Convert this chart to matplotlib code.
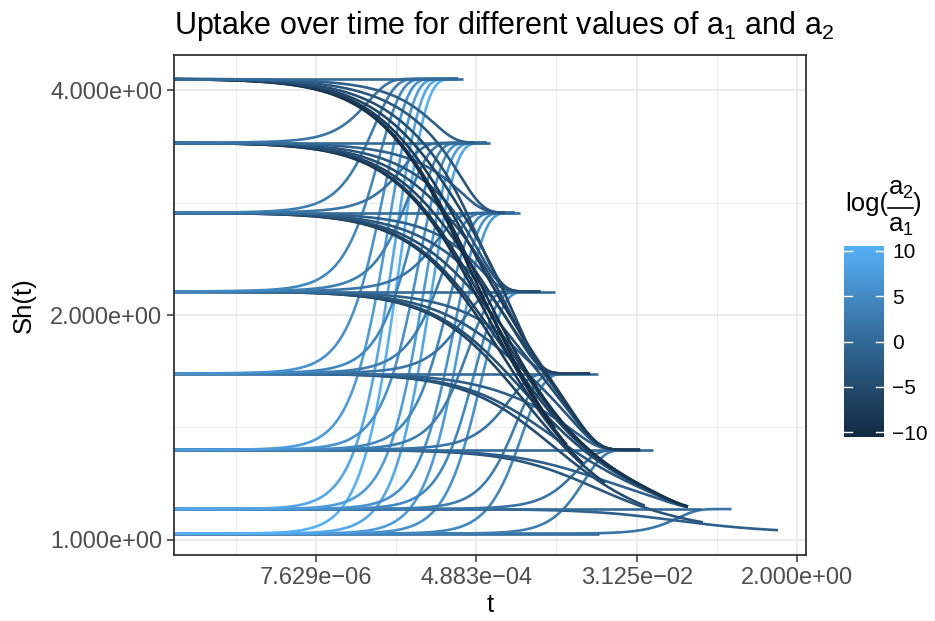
import numpy as np
import matplotlib
matplotlib.use("Agg")
import matplotlib.pyplot as plt
from matplotlib.colors import ListedColormap, Normalize
from matplotlib.ticker import NullFormatter

# ---------------- data ----------------
# steady-state Sh level for each of the 8 values of a (low -> high)
sh_levels = [1.02, 1.10, 1.32, 1.67, 2.15, 2.74, 3.40, 4.14]
# ln(a) of the 8 values (relative); colour = ln(a2/a1)
ln_a = [0.0, 1.5, 3.0, 4.5, 6.0, 7.5, 9.0, 10.5]
settle_log2 = [np.nan, -3.45, -6.90, -9.14, -10.64, -11.31, -12.36, -13.44]
# earlier settling (log2 t) per step of the starting level, for rising curves
rise_shift_log2 = 0.25
# log2 t where the flat (a1 = a2) lines end
flat_end_log2 = [-6.40, -2.60, -4.39, -6.45, -8.06, -9.37, -10.49, -11.50]
# log2 t where rising curves into level j end
rise_end_log2 = [np.nan, -1.45, -5.15, -7.39, -8.89, -9.56, -10.61, -11.69]
# log2 t where curves falling into level j end (level 0: by start level)
fall_end_log2 = [np.nan, -3.08, -4.87, -6.75, -8.60, -9.93, -11.05, np.nan]
fall_base_end_log2 = [np.nan, 0.29, -2.52, -4.69, -6.18, -7.01, -7.61, -8.06]
# common decay of the starting plateau: excess ~ 2^decay_log2c * t^-decay_p
decay_log2c = -6.31
decay_p = 0.62
t_start_log2 = -22.4

x_tick_pow = [-17, -11, -5, 1]
x_tick_labels = ["7.629e\u221206", "4.883e\u221204", "3.125e\u221202", "2.000e+00"]
y_tick_pow = [0, 1, 2]
y_tick_labels = ["1.000e+00", "2.000e+00", "4.000e+00"]
cbar_ticks = [-10, -5, 0, 5, 10]
cbar_labels = ["\u221210", "\u22125", "0", "5", "10"]
cbar_range = (-10.5, 10.5)

# ---------------- colour scale (ggplot default, Lab interpolation) ----------------
def _srgb_to_lin(c):
    c = np.asarray(c, float)
    return np.where(c <= 0.04045, c / 12.92, ((c + 0.055) / 1.055) ** 2.4)

def _lin_to_srgb(c):
    c = np.clip(c, 0, 1)
    return np.where(c <= 0.0031308, 12.92 * c, 1.055 * c ** (1 / 2.4) - 0.055)

M = np.array([[0.4124, 0.3576, 0.1805], [0.2126, 0.7152, 0.0722], [0.0193, 0.1192, 0.9505]])
WP = np.array([0.95047, 1.0, 1.08883])

def _f(t):
    d = 6 / 29
    return np.where(t > d ** 3, np.cbrt(t), t / (3 * d * d) + 4 / 29)

def _finv(t):
    d = 6 / 29
    return np.where(t > d, t ** 3, 3 * d * d * (t - 4 / 29))

def hex2lab(h):
    rgb = np.array([int(h[k:k + 2], 16) / 255 for k in (1, 3, 5)])
    xyz = M @ _srgb_to_lin(rgb) / WP
    fx, fy, fz = _f(xyz)
    return np.array([116 * fy - 16, 500 * (fx - fy), 200 * (fy - fz)])

def lab2rgb(lab):
    L, a, b = lab
    fy = (L + 16) / 116
    xyz = np.array([_finv(fy + a / 500), _finv(fy), _finv(fy - b / 200)]) * WP
    return _lin_to_srgb(np.linalg.inv(M) @ xyz)

lo, hi = hex2lab("#132B43"), hex2lab("#56B1F7")
cmap = ListedColormap([lab2rgb(lo + (hi - lo) * s) for s in np.linspace(0, 1, 256)])
norm = Normalize(*cbar_range)

# ---------------- figure ----------------
plt.rcParams["font.family"] = ["Liberation Sans", "DejaVu Sans"]
plt.rcParams["mathtext.fontset"] = "custom"
plt.rcParams["mathtext.rm"] = "Liberation Sans"
plt.rcParams["mathtext.it"] = "Liberation Sans"

W, H = 935, 621
fig = plt.figure(figsize=(W / 100, H / 100), dpi=100)
ax = fig.add_axes([174 / W, (H - 555) / H, 632 / W, 500 / H])
ax.set_xscale("log", base=2)
ax.set_yscale("log", base=2)

S = sh_levels
n = len(S)
for i in range(n):
    for j in range(n):
        if i == j:
            end = flat_end_log2[i]
        elif j == 0:
            end = fall_base_end_log2[i]
        elif j > i:
            end = rise_end_log2[j]
        else:
            end = fall_end_log2[j]
        t = 2.0 ** np.linspace(t_start_log2, end, 800)
        if i == j:
            sh = np.full_like(t, S[i])
        else:
            g = 2.0 ** decay_log2c * t ** (-decay_p)
            D = (1.0 + ((S[i] - S[0]) / g) ** 1.5) ** (-1 / 1.5)
            if j == 0:
                X = 1.0
            else:
                T_l2 = settle_log2[j] - (rise_shift_log2 * i if j > i else 0.0)
                X = np.exp(-(t / 2.0 ** T_l2) ** 2)
            sh = S[j] + (S[i] - S[j]) * D * X
        col = cmap(norm(ln_a[j] - ln_a[i]))
        ax.plot(t, sh, color=col, lw=1.9, solid_capstyle="butt", solid_joinstyle="round")

ax.set_xlim(2.0 ** -22.314, 2.0 ** 1.338)
ax.set_ylim(2.0 ** -0.0667, 2.0 ** 2.1556)
ax.set_xticks([2.0 ** p for p in x_tick_pow])
ax.set_xticklabels(x_tick_labels)
ax.set_yticks([2.0 ** p for p in y_tick_pow])
ax.set_yticklabels(y_tick_labels)
ax.set_xticks([2.0 ** (p - 3) for p in x_tick_pow], minor=True)
ax.set_yticks([2.0 ** (p + 0.5) for p in y_tick_pow[:-1]], minor=True)
ax.xaxis.set_minor_formatter(NullFormatter())
ax.yaxis.set_minor_formatter(NullFormatter())
ax.tick_params(which="minor", length=0)
ax.tick_params(which="major", length=5, width=1.1, color="#333333", labelcolor="#4D4D4D",
               labelsize=17, pad=3.5)
ax.grid(which="major", color="#EBEBEB", lw=1.4)
ax.grid(which="minor", color="#EBEBEB", lw=0.7)
ax.set_axisbelow(True)
for sp in ax.spines.values():
    sp.set_color("#333333")
    sp.set_linewidth(1.3)
ax.set_xlabel("t", fontsize=18.5, va="center")
ax.xaxis.set_label_coords(0.5, -(605 - 555) / 500, transform=ax.transAxes)
ax.set_ylabel("Sh(t)", fontsize=18.5, va="center")
ax.yaxis.set_label_coords((24 - 174) / 632, 0.5, transform=ax.transAxes)

fig.text(174 / W, 1 - 34 / H,
         r"Uptake over time for different values of $\mathregular{a_1}$ and $\mathregular{a_2}$",
         fontsize=22, ha="left", va="baseline")

# colour bar
cax = fig.add_axes([844 / W, (H - 437) / H, 40 / W, 191 / H])
grad = np.linspace(cbar_range[0], cbar_range[1], 300).reshape(-1, 1)
cax.imshow(grad, cmap=cmap, norm=norm, aspect="auto", origin="lower",
           extent=[0, 1, cbar_range[0], cbar_range[1]])
for v in cbar_ticks:
    cax.plot([0, 0.2], [v, v], color="white", lw=1.0)
    cax.plot([0.8, 1], [v, v], color="white", lw=1.0)
cax.set_xlim(0, 1)
cax.set_ylim(*cbar_range)
cax.set_xticks([])
cax.yaxis.tick_right()
cax.set_yticks(cbar_ticks)
cax.set_yticklabels(cbar_labels)
cax.tick_params(axis="y", length=0, pad=6, labelsize=15, labelcolor="black")
for sp in cax.spines.values():
    sp.set_visible(False)

# legend title: log( a2 / a1 )
fs_leg = 18.5
fig.text(845 / W, 1 - 204 / H, "log(", fontsize=fs_leg, ha="left", va="center")
fig.text(901 / W, 1 - 189 / H, r"$\mathregular{a_2}$", fontsize=fs_leg, ha="center", va="center")
fig.text(901 / W, 1 - 226 / H, r"$\mathregular{a_1}$", fontsize=fs_leg, ha="center", va="center")
fig.add_artist(plt.Line2D([888 / W, 913 / W], [1 - 208 / H, 1 - 208 / H], color="black", lw=1.2))
fig.text(913 / W, 1 - 204 / H, ")", fontsize=fs_leg, ha="left", va="center")

fig.savefig("out.png", dpi=100)
